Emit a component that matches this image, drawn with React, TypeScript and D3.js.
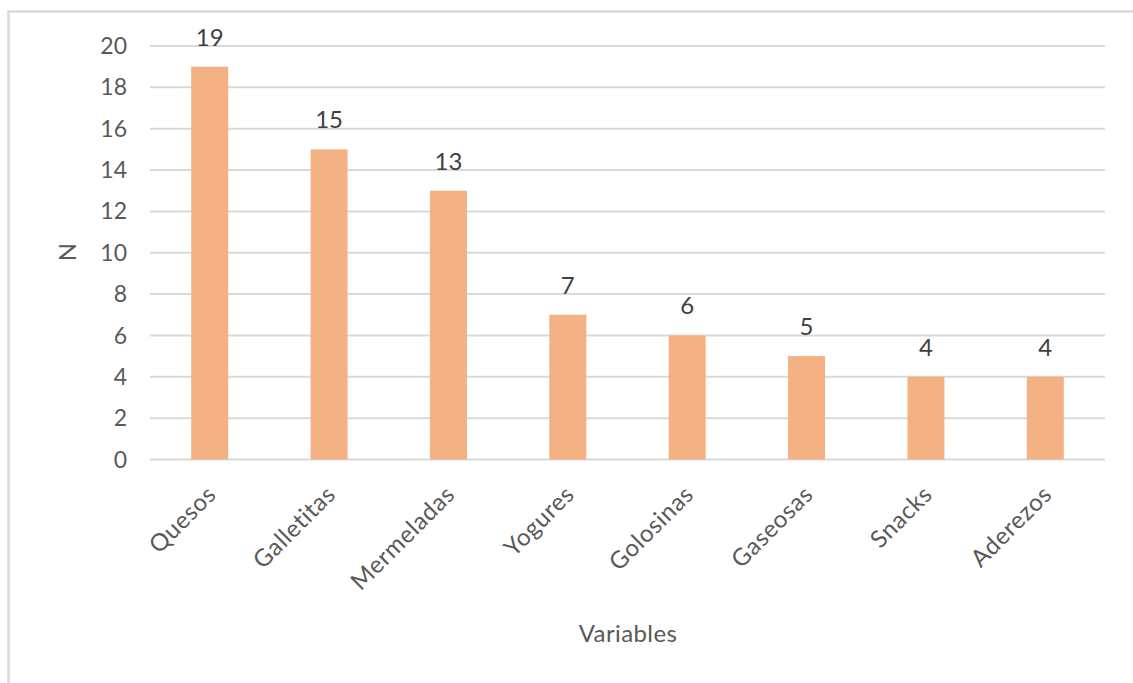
import React from "react";
import * as d3 from "d3";

const categories = ["Quesos", "Galletitas", "Mermeladas", "Yogures", "Golosinas", "Gaseosas", "Snacks", "Aderezos"];
const values = [19, 15, 13, 7, 6, 5, 4, 4];
const yTicks = [0, 2, 4, 6, 8, 10, 12, 14, 16, 18, 20];

const W = 1133;
const H = 683;
const FONT = "Lato, 'Open Sans', sans-serif";
const TEXT = "#595959";

export default function App() {
  const x = d3.scaleBand<string>()
    .domain(categories)
    .range([150, 1105])
    .paddingInner(0.69)
    .paddingOuter(0.345);
  const y = d3.scaleLinear().domain([0, 20]).range([459.5, 46]);

  return (
    <svg width={W} height={H} style={{ position: "absolute", left: 0, top: 0, background: "#fff" }}>
      <rect x={8.5} y={11.5} width={1140} height={700} fill="none" stroke="#d9d9d9" strokeWidth={2.5} />
      {yTicks.map(t => (
        <g key={t}>
          <line x1={150} x2={1105} y1={y(t)} y2={y(t)} stroke="#d9d9d9" strokeWidth={2} />
          <text x={127} y={y(t)} dy="0.35em" textAnchor="end" fontFamily={FONT} fontSize={23} fill={TEXT}>{t}</text>
        </g>
      ))}
      {categories.map((c, i) => {
        const cx = x(c)! + x.bandwidth() / 2;
        return (
          <g key={c}>
            <rect x={x(c)} y={y(values[i])} width={x.bandwidth()} height={y(0) - y(values[i])} fill="#F4B183" />
            <text x={cx} y={y(values[i]) - 21} textAnchor="middle" fontFamily={FONT} fontSize={24} fill="#404040">{values[i]}</text>
            <text transform={`translate(${cx + 2},${490}) rotate(-45)`} textAnchor="end" dy="0.35em" fontFamily={FONT} fontSize={24} letterSpacing={0.6} fill={TEXT}>{c}</text>
          </g>
        );
      })}
      <text transform="translate(68,252) rotate(-90)" textAnchor="middle" dy="0.35em" fontFamily={FONT} fontSize={24} fill={TEXT}>N</text>
      <text x={628} y={642} textAnchor="middle" fontFamily={FONT} fontSize={24} letterSpacing={0.4} fill={TEXT}>Variables</text>
    </svg>
  );
}
